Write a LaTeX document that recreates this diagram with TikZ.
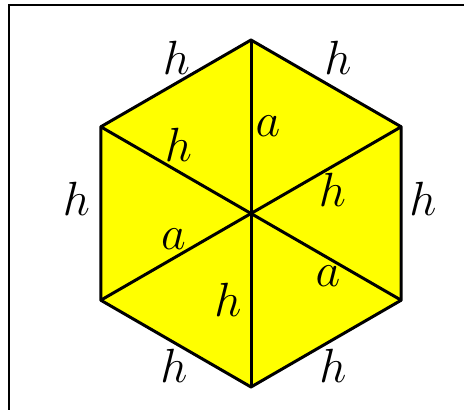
\RequirePackage{fix-cm}
\documentclass[tikz,border=0pt]{standalone}
\definecolor{hexfill}{RGB}{255,255,0}
\begin{document}
\begin{tikzpicture}[x=1pt,y=-1pt,
  edge/.style={line width=3pt,line join=round},
  lbl/.style={inner sep=0pt,anchor=center,font=\fontsize{48}{48}\selectfont}]
\useasboundingbox (0,0) rectangle (464,410);
\draw[line width=1.2pt] (9,410) -- (9,5) -- (464,5);
\coordinate (O) at (251,213.5);
\coordinate (T) at (251,40);
\coordinate (B) at (251,387);
\coordinate (UL) at (100.8,126.8);
\coordinate (LL) at (100.8,300.2);
\coordinate (UR) at (401.2,126.8);
\coordinate (LR) at (401.2,300.2);
\fill[hexfill] (T) -- (UR) -- (LR) -- (B) -- (LL) -- (UL) -- cycle;
\draw[edge] (T) -- (B);
\draw[edge] (UL) -- (LR);
\draw[edge] (LL) -- (UR);
\draw[edge] (T) -- (UR) -- (LR) -- (B) -- (LL) -- (UL) -- cycle;
\node[lbl] (h1) at (176.5,57.5) {$h$};
\node[lbl] (h2) at (338,57.5) {$h$};
\node[lbl] (h3) at (76.5,198.5) {$h$};
\node[lbl] (h4) at (423,199) {$h$};
\node[lbl] (h5) at (174,366) {$h$};
\node[lbl] (h6) at (333,366) {$h$};
\node[lbl] (a1) at (268,126.5) {$a$};
\node[lbl] (h7) at (178.5,145) {$h$};
\node[lbl] (h8) at (332.5,190) {$h$};
\node[lbl] (a2) at (173.5,239) {$a$};
\node[lbl] (h9) at (228,300) {$h$};
\node[lbl] (a3) at (328,276) {$a$};
\end{tikzpicture}
\end{document}
